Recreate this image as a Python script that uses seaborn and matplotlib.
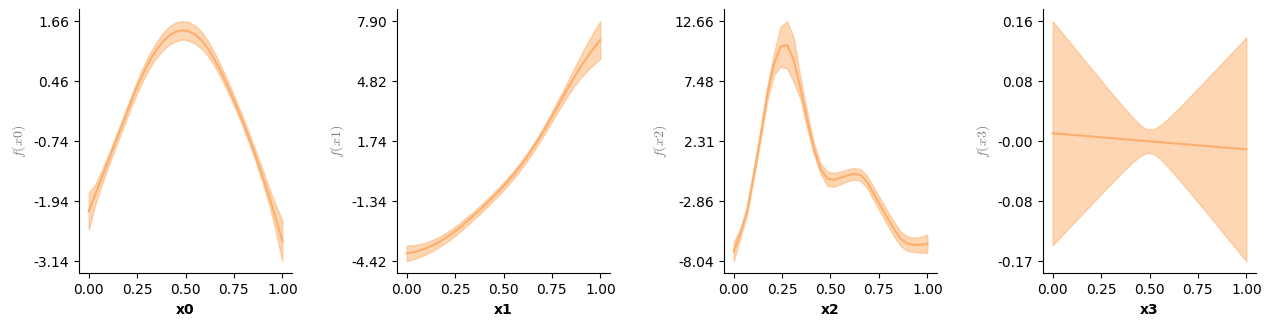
import numpy as np
import pandas as pd
import matplotlib
matplotlib.use("Agg")
import matplotlib.pyplot as plt
import seaborn as sns

# Evaluation grid shared by every shape function (30 points on [0, 1])
grid = [0.0, 0.0345, 0.069, 0.1034, 0.1379, 0.1724, 0.2069, 0.2414, 0.2759, 0.3103,
        0.3448, 0.3793, 0.4138, 0.4483, 0.4828, 0.5172, 0.5517, 0.5862, 0.6207, 0.6552,
        0.6897, 0.7241, 0.7586, 0.7931, 0.8276, 0.8621, 0.8966, 0.931, 0.9655, 1.0]

features = ["x0", "x1", "x2", "x3"]

# Estimated shape functions f(x_k) and the half-width of their confidence bands
f_x0 = [-2.14, -1.80, -1.45, -1.11, -0.76, -0.42, -0.07, 0.27, 0.57, 0.84,
        1.06, 1.24, 1.37, 1.45, 1.48, 1.46, 1.39, 1.27, 1.09, 0.86,
        0.60, 0.31, 0.00, -0.32, -0.67, -1.03, -1.42, -1.83, -2.27, -2.73]
band_x0 = [0.37, 0.20, 0.14, 0.12, 0.11, 0.11, 0.11, 0.12, 0.13, 0.14,
           0.15, 0.17, 0.18, 0.19, 0.181, 0.19, 0.18, 0.17, 0.15, 0.13,
           0.12, 0.11, 0.10, 0.10, 0.10, 0.11, 0.13, 0.17, 0.26, 0.409]

f_x1 = [-4.01, -3.95, -3.86, -3.74, -3.58, -3.40, -3.18, -2.94, -2.67, -2.38,
        -2.08, -1.77, -1.44, -1.10, -0.75, -0.38, 0.02, 0.45, 0.92, 1.43,
        1.97, 2.55, 3.16, 3.77, 4.38, 4.98, 5.54, 6.05, 6.52, 6.94]
band_x1 = [0.408, 0.36, 0.33, 0.30, 0.28, 0.26, 0.25, 0.24, 0.23, 0.22,
           0.21, 0.21, 0.20, 0.20, 0.20, 0.20, 0.20, 0.20, 0.20, 0.21,
           0.22, 0.23, 0.26, 0.30, 0.36, 0.45, 0.56, 0.70, 0.84, 0.962]

f_x2 = [-7.21, -5.63, -3.70, -0.60, 2.70, 6.30, 8.90, 10.47, 10.62, 9.32,
        6.88, 4.15, 1.70, -0.05, -0.90, -1.02, -0.84, -0.63, -0.49, -0.60,
        -1.20, -2.25, -3.27, -4.28, -5.25, -6.10, -6.50, -6.62, -6.61, -6.52]
band_x2 = [0.826, 0.40, 0.35, 0.35, 0.40, 0.60, 0.90, 1.72, 2.036, 1.90,
           0.93, 0.70, 0.50, 0.45, 0.62, 0.60, 0.55, 0.50, 0.50, 0.50,
           0.52, 0.55, 0.58, 0.60, 0.62, 0.62, 0.62, 0.62, 0.68, 0.78]

f_x3 = [0.0090, 0.0082, 0.0075, 0.0067, 0.0060, 0.0052, 0.0044, 0.0037, 0.0029, 0.0022,
        0.0014, 0.0007, -0.0001, -0.0009, -0.0016, -0.0024, -0.0031, -0.0039, -0.0047, -0.0054,
        -0.0062, -0.0069, -0.0077, -0.0084, -0.0092, -0.0100, -0.0107, -0.0115, -0.0122, -0.0130]
band_x3 = [0.1530, 0.1425, 0.1321, 0.1217, 0.1113, 0.1009, 0.0906, 0.0802, 0.0699, 0.0598,
           0.0497, 0.0399, 0.0304, 0.0221, 0.0163, 0.0163, 0.0221, 0.0304, 0.0399, 0.0497,
           0.0598, 0.0699, 0.0802, 0.0906, 0.1009, 0.1113, 0.1217, 0.1321, 0.1425, 0.1530]

means = [f_x0, f_x1, f_x2, f_x3]
bands = [band_x0, band_x1, band_x2, band_x3]

color = "#fdae6b"

plt.rcParams["mathtext.fontset"] = "cm"
fig, axes = plt.subplots(1, 4, figsize=(12.71, 3.26), dpi=100)

# axes rectangles in pixels: (left, right)
panel_px = [(79, 292), (397, 610), (724, 937), (1043, 1256)]
W, H = 1271.0, 326.0
bottom_px, top_px = 273.3, 9.3

for ax, name, mean, band, (l, r) in zip(axes, features, means, bands, panel_px):
    df = pd.DataFrame({"x": grid, "f": mean, "band": band})
    df["lower"] = df["f"] - df["band"]
    df["upper"] = df["f"] + df["band"]

    ax.fill_between(df["x"], df["lower"], df["upper"], color=color, alpha=0.5, linewidth=1)
    sns.lineplot(data=df, x="x", y="f", ax=ax, color=color, linewidth=1.5)

    lo, hi = df["lower"].min(), df["upper"].max()
    ticks = np.linspace(lo, hi, 5)
    ax.set_yticks(ticks)
    ax.set_yticklabels([f"{t:.2f}" for t in ticks])
    ax.set_xticks([0.0, 0.25, 0.5, 0.75, 1.0])
    ax.set_xticklabels(["0.00", "0.25", "0.50", "0.75", "1.00"])
    ax.margins(x=0.05, y=0.05)

    ax.set_xlabel(name, fontweight="bold", fontsize=10)
    ax.set_ylabel(f"$f({name})$", fontsize=10, color="gray")
    ax.tick_params(labelsize=10)
    sns.despine(ax=ax)

    ax.set_position([l / W, 1 - bottom_px / H, (r - l) / W, (bottom_px - top_px) / H])

fig.savefig("out.png", dpi=100)
